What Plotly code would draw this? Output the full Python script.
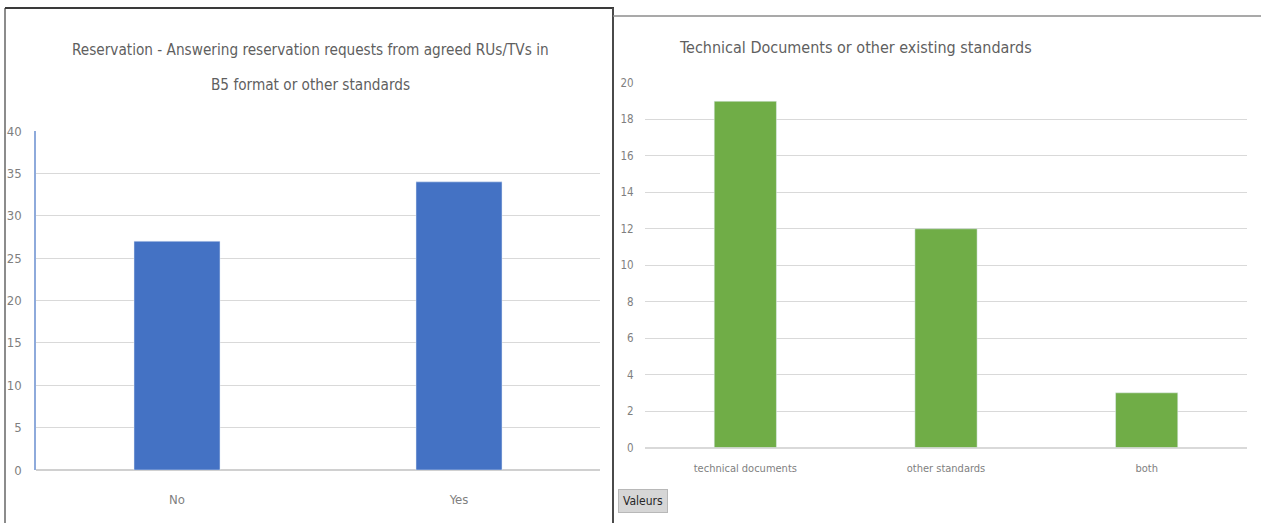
import plotly.graph_objects as go

# ---- data ----
left_categories = ["No", "Yes"]
left_values = [27, 34]
left_title_l1 = "Reservation - Answering reservation requests from agreed RUs/TVs in"
left_title_l2 = "B5 format or other standards"
left_yticks = [0, 5, 10, 15, 20, 25, 30, 35, 40]

right_categories = ["technical documents", "other standards", "both"]
right_values = [19, 12, 3]
right_title = "Technical Documents or other existing standards"
right_yticks = [0, 2, 4, 6, 8, 10, 12, 14, 16, 18, 20]
button_text = "Valeurs"

W, H = 1261, 523
FONT = "Liberation Sans Narrow, DejaVu Sans Condensed, Roboto, sans-serif"
GRAY = "#5f5f5f"
TICKGRAY = "#7f7f7f"

def px(x):
    return x / W

def py(y):
    return 1 - y / H

fig = go.Figure()
fig.add_trace(go.Bar(x=left_categories, y=left_values, marker_color="#4472C4",
                     width=0.305, xaxis="x", yaxis="y", showlegend=False,
                     hoverinfo="skip"))
fig.add_trace(go.Bar(x=right_categories, y=right_values, marker_color="#70AD47",
                     width=0.31, xaxis="x2", yaxis="y2", showlegend=False,
                     hoverinfo="skip"))

fig.update_layout(
    width=W, height=H,
    margin=dict(l=0, r=0, t=0, b=0, pad=0, autoexpand=False),
    paper_bgcolor="white", plot_bgcolor="white",
    font=dict(family=FONT, color=GRAY),
    xaxis=dict(domain=[px(36), px(600)], anchor="y", type="category",
               automargin=False,
               range=[-0.5, 1.5], showgrid=False, showline=False,
               ticks="outside", ticklen=17, tickcolor="rgba(0,0,0,0)",
               tickfont=dict(size=13, color=TICKGRAY, family=FONT)),
    yaxis=dict(domain=[py(470), py(131)], anchor="x", range=[0, 40],
               automargin=False,
               tickvals=left_yticks, showgrid=True, gridcolor="#d9d9d9",
               gridwidth=1, zeroline=True, zerolinecolor="#d0d0d0",
               showline=True, linecolor="#8eaadb", linewidth=1.5,
               ticks="outside", ticklen=10, tickcolor="rgba(0,0,0,0)",
               tickfont=dict(size=13, color=TICKGRAY, family=FONT)),
    xaxis2=dict(domain=[px(645), px(1247)], anchor="y2", type="category",
                automargin=False,
                range=[-0.5, 2.5], showgrid=False, showline=False,
                ticks="outside", ticklen=10, tickcolor="rgba(0,0,0,0)",
                tickfont=dict(size=11, color=TICKGRAY, family=FONT)),
    yaxis2=dict(domain=[py(447.5), py(83)], anchor="x2", range=[0, 20],
                automargin=False,
                tickvals=right_yticks, showgrid=True, gridcolor="#d9d9d9",
                gridwidth=1, zeroline=True, zerolinecolor="#d9d9d9",
                showline=False, ticks="outside", ticklen=8,
                tickcolor="rgba(0,0,0,0)",
                tickfont=dict(size=11.5, color=TICKGRAY, family=FONT)),
)

annotations = [
    dict(text=left_title_l1, x=px(310), y=py(50), xref="paper", yref="paper",
         xanchor="center", yanchor="middle", showarrow=False,
         font=dict(size=15.2, color=GRAY, family=FONT)),
    dict(text=left_title_l2, x=px(310), y=py(85), xref="paper", yref="paper",
         xanchor="center", yanchor="middle", showarrow=False,
         font=dict(size=15.2, color=GRAY, family=FONT)),
    dict(text=right_title, x=px(677), y=py(48), xref="paper", yref="paper",
         xanchor="left", yanchor="middle", showarrow=False,
         font=dict(size=16, color=GRAY, family=FONT)),
    dict(text=button_text, x=px(643), y=py(501), xref="paper", yref="paper",
         xanchor="center", yanchor="middle", showarrow=False,
         bgcolor="#d6d6d6", bordercolor="#b8b8b8", borderwidth=1, borderpad=4,
         font=dict(size=12, color="#262626", family=FONT)),
]
fig.update_layout(annotations=annotations)

shapes = [
    # left panel frame
    dict(type="line", xref="paper", yref="paper", x0=px(5), x1=px(5),
         y0=py(8), y1=py(523), line=dict(color="#8c8c8c", width=2)),
    dict(type="line", xref="paper", yref="paper", x0=px(5), x1=px(614),
         y0=py(8), y1=py(8), line=dict(color="#3a3a3a", width=2)),
    dict(type="line", xref="paper", yref="paper", x0=px(613), x1=px(613),
         y0=py(8), y1=py(523), line=dict(color="#4a4a4a", width=2)),
    # right panel frame
    dict(type="line", xref="paper", yref="paper", x0=px(613), x1=px(1261),
         y0=py(16), y1=py(16), line=dict(color="#8c8c8c", width=1.5)),
]
fig.update_layout(shapes=shapes)

fig.write_html("out.html", config={"displayModeBar": False},
               post_script="document.body.style.margin='0';document.body.style.overflow='hidden';")
